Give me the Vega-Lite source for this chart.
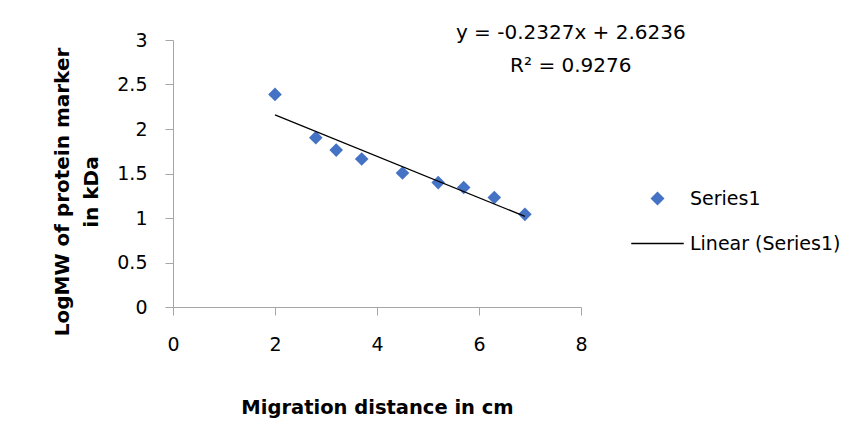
{
  "$schema": "https://vega.github.io/schema/vega-lite/v6.json",
  "width": 408,
  "height": 267,
  "autosize": "none",
  "padding": {"left": 173, "top": 40, "right": 273, "bottom": 118},
  "background": "white",
  "config": {"view": {"stroke": null}, "font": "DejaVu Sans"},
  "datasets": {
    "points": [
      {"series": "Series1", "distance": 2.0, "logMW": 2.389},
      {"series": "Series1", "distance": 2.8, "logMW": 1.903},
      {"series": "Series1", "distance": 3.2, "logMW": 1.763},
      {"series": "Series1", "distance": 3.7, "logMW": 1.663},
      {"series": "Series1", "distance": 4.5, "logMW": 1.505},
      {"series": "Series1", "distance": 5.2, "logMW": 1.398},
      {"series": "Series1", "distance": 5.7, "logMW": 1.342},
      {"series": "Series1", "distance": 6.3, "logMW": 1.230},
      {"series": "Series1", "distance": 6.9, "logMW": 1.041}
    ],
    "trend": [
      {"distance": 2.0, "logMW": 2.1582},
      {"distance": 6.9, "logMW": 1.018}
    ],
    "labels": [
      {"distance": 7.8, "logMW": 3.015, "label": "y = -0.2327x + 2.6236"},
      {"distance": 7.8, "logMW": 2.638, "label": "R² = 0.9276"}
    ]
  },
  "layer": [
    {
      "data": {"name": "points"},
      "mark": {"type": "point", "filled": true, "size": 185, "opacity": 1},
      "encoding": {
        "x": {
          "field": "distance", "type": "quantitative",
          "scale": {"domain": [0, 8], "nice": false},
          "axis": {
            "title": "Migration distance in cm",
            "values": [0, 2, 4, 6, 8],
            "grid": false,
            "domainColor": "#A6A6A6", "tickColor": "#A6A6A6", "tickSize": 8,
            "labelFont": "DejaVu Sans", "labelFontSize": 19, "labelColor": "black", "labelPadding": 20,
            "labelFlush": false, "labelOverlap": false,
            "titleFont": "DejaVu Sans", "titleFontWeight": "bold", "titleFontSize": 19.5, "titleColor": "black",
            "titleBaseline": "alphabetic", "titleY": 106
          }
        },
        "y": {
          "field": "logMW", "type": "quantitative",
          "scale": {"domain": [0, 3], "nice": false},
          "axis": {
            "title": ["LogMW of protein marker", "in kDa"],
            "values": [0, 0.5, 1, 1.5, 2, 2.5, 3],
            "format": "~g",
            "grid": false,
            "domainColor": "#A6A6A6", "tickColor": "#A6A6A6", "tickSize": 8,
            "labelFont": "DejaVu Sans", "labelFontSize": 19, "labelColor": "black", "labelPadding": 18,
            "labelFlush": false, "labelOverlap": false,
            "titleFont": "DejaVu Sans", "titleFontWeight": "bold", "titleFontSize": 20, "titleColor": "black",
            "titleBaseline": "alphabetic", "titleLineHeight": 29, "titleAlign": "center",
            "titleX": -105, "titleY": 151.5
          }
        },
        "color": {
          "field": "series", "type": "nominal",
          "scale": {"domain": ["Series1", "Linear (Series1)"], "range": ["#4472C4", "black"]},
          "legend": {
            "title": null,
            "orient": "none",
            "legendX": 475,
            "legendY": 149,
            "padding": 0,
            "symbolSize": 196,
            "symbolStrokeWidth": 0,
            "labelFont": "DejaVu Sans", "labelFontSize": 19, "labelColor": "black",
            "labelOffset": 23,
            "rowPadding": 25
          }
        },
        "shape": {
          "field": "series", "type": "nominal",
          "scale": {"domain": ["Series1", "Linear (Series1)"], "range": ["diamond", "M-3.75,-0.1H3.75V0.1H-3.75Z"]},
          "legend": {
            "title": null,
            "orient": "none",
            "legendX": 475,
            "legendY": 149,
            "padding": 0,
            "symbolSize": 196,
            "symbolStrokeWidth": 0,
            "labelFont": "DejaVu Sans", "labelFontSize": 19, "labelColor": "black",
            "labelOffset": 23,
            "rowPadding": 25
          }
        }
      }
    },
    {
      "data": {"name": "trend"},
      "mark": {"type": "line", "strokeWidth": 1.3, "color": "black"},
      "encoding": {
        "x": {"field": "distance", "type": "quantitative"},
        "y": {"field": "logMW", "type": "quantitative"}
      }
    },
    {
      "data": {"name": "labels"},
      "mark": {"type": "text", "fontSize": 20, "font": "DejaVu Sans", "align": "center", "baseline": "alphabetic", "color": "black"},
      "encoding": {
        "x": {"field": "distance", "type": "quantitative"},
        "y": {"field": "logMW", "type": "quantitative"},
        "text": {"field": "label"}
      }
    }
  ]
}
